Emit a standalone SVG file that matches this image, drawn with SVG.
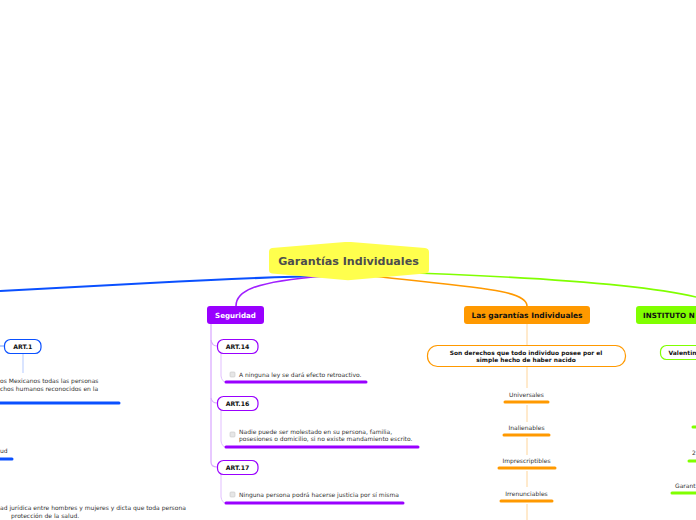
<svg xmlns="http://www.w3.org/2000/svg" width="696" height="520" viewBox="0 0 696 520">
<defs>
<style>
.t{font-family:"DejaVu Sans",Verdana,sans-serif;}
.b{font-weight:bold;}
.sm{font-size:6px;fill:#333;}
.art{font-size:6.2px;font-weight:bold;fill:#111;}
.ul{stroke-width:3;stroke-linecap:round;fill:none;}
.cb{fill:#e6e6e6;stroke:#c8c8c8;stroke-width:0.6;}
</style>
</defs>
<rect width="696" height="520" fill="#fff"/>
<g id="connectors" fill="none">
  <path d="M0 291 L150 283 Q260 277 330 276" stroke="#0a50ff" stroke-width="2.2"/>
  <path d="M325 276 C250 282 236 292 236 306" stroke="#a020ff" stroke-width="1.6"/>
  <path d="M372 276 C480 288 527 290 527 306" stroke="#ff9900" stroke-width="1.6"/>
  <path d="M380 272 C520 276 640 284 696 297" stroke="#80ff00" stroke-width="1.6"/>
  <path d="M211 324 L211 462 Q211 467 217 467" stroke="#d9a6ff" stroke-width="1.2"/>
  <path d="M211 340 Q212 346 217 346" stroke="#d9a6ff" stroke-width="1.2"/>
  <path d="M211 398 Q212 403 217 403" stroke="#d9a6ff" stroke-width="1.2"/>
  <path d="M221 354 L221 376 Q222 382 226 382" stroke="#e2bfff" stroke-width="1"/>
  <path d="M221 411 L221 441 Q222 447 226 447" stroke="#e2bfff" stroke-width="1"/>
  <path d="M221 474 L221 497 Q222 503 226 503" stroke="#e2bfff" stroke-width="1"/>
  <path d="M0 346 L4 346" stroke="#6f9bff" stroke-width="1"/>
  <path d="M23 354 L23 373" stroke="#b3c9ff" stroke-width="1"/>
  <path d="M527 323 L527 345" stroke="#ffd59a" stroke-width="1"/>
  <path d="M527 367 L527 388" stroke="#ffd59a" stroke-width="1"/>
  <path d="M527 405 L527 422" stroke="#ffd59a" stroke-width="1"/>
  <path d="M527 438 L527 455" stroke="#ffd59a" stroke-width="1"/>
  <path d="M527 471 L527 487" stroke="#ffd59a" stroke-width="1"/>
  <path d="M527 504 L527 520" stroke="#ffd59a" stroke-width="1"/>
</g>
<g id="central">
  <path d="M272 248 L345 242 Q348 241.8 351 242 L425 248 Q429 248.5 429 252 L429 270 Q429 273 425 273.5 L351 280 Q348 280.3 345 280 L272 273.5 Q269 273 269 270 L269 252 Q269 248.5 272 248 Z" fill="#ffff4d"/>
  <text class="t b" x="348.5" y="265" font-size="11.1" fill="#4d4d4d" text-anchor="middle">Garantías Individuales</text>
</g>
<g id="seguridad">
  <rect x="207" y="306" width="57" height="18" rx="3" fill="#9900ff"/>
  <text class="t b" x="235.5" y="318" font-size="7.1" fill="#fff" text-anchor="middle">Seguridad</text>
</g>
<g id="art14">
  <rect x="217.5" y="339.5" width="40.5" height="14" rx="6" fill="#fff" stroke="#9900ff" stroke-width="1.2"/>
  <text class="t art" x="237.5" y="349" text-anchor="middle">ART.14</text>
</g>
<g id="art14-text">
  <rect class="cb" x="230" y="372" width="5" height="5" rx="1"/>
  <text class="t sm" x="239" y="377">A ninguna ley se dará efecto retroactivo.</text>
  <path class="ul" d="M226 382 L366 382" stroke="#9900ff"/>
</g>
<g id="art16">
  <rect x="217.5" y="396.5" width="40.5" height="14" rx="6" fill="#fff" stroke="#9900ff" stroke-width="1.2"/>
  <text class="t art" x="237.5" y="406" text-anchor="middle">ART.16</text>
</g>
<g id="art16-text">
  <rect class="cb" x="230" y="432" width="5" height="5" rx="1"/>
  <text class="t sm" x="239" y="434">Nadie puede ser molestado en su persona, familia,</text>
  <text class="t sm" x="239" y="441">posesiones o domicilio, si no existe mandamiento escrito.</text>
  <path class="ul" d="M226 447 L418 447" stroke="#9900ff"/>
</g>
<g id="art17">
  <rect x="217.5" y="460.5" width="40.5" height="14" rx="6" fill="#fff" stroke="#9900ff" stroke-width="1.2"/>
  <text class="t art" x="237.5" y="470" text-anchor="middle">ART.17</text>
</g>
<g id="art17-text">
  <rect class="cb" x="230" y="492" width="5" height="5" rx="1"/>
  <text class="t sm" x="239" y="497">Ninguna persona podrá hacerse justicia por sí misma</text>
  <path class="ul" d="M226 503 L403 503" stroke="#9900ff"/>
</g>
<g id="art1">
  <rect x="4.5" y="339.5" width="36.5" height="14" rx="6" fill="#fff" stroke="#0a50ff" stroke-width="1.2"/>
  <text class="t art" x="22.8" y="349" text-anchor="middle">ART.1</text>
</g>
<g id="art1-text">
  <text class="t sm" x="0" y="383">os Mexicanos todas las personas</text>
  <text class="t sm" x="0" y="391">chos humanos reconocidos en la</text>
  <path class="ul" d="M0 403 L119 403" stroke="#0a50ff"/>
</g>
<g id="salud">
  <text class="t sm" x="0" y="453">ud</text>
  <path class="ul" d="M0 459 L12 459" stroke="#0a50ff"/>
</g>
<g id="igualdad">
  <text class="t sm" x="0" y="510">ad jurídica entre hombres y mujeres y dicta que toda persona</text>
  <text class="t sm" x="11" y="518">protección de la salud.</text>
</g>
<g id="las-garantias">
  <rect x="464" y="306" width="126" height="18" rx="3" fill="#ff9900"/>
  <text class="t b" x="527" y="318" font-size="7.5" fill="#111" text-anchor="middle">Las garantías Individuales</text>
</g>
<g id="son-derechos">
  <rect x="427.5" y="345.5" width="198" height="21" rx="10" fill="#fff" stroke="#ff9900" stroke-width="1.2"/>
  <text class="t b" x="526" y="355" font-size="5.9" fill="#111" text-anchor="middle">Son derechos que todo individuo posee por el</text>
  <text class="t b" x="526" y="362" font-size="5.9" fill="#111" text-anchor="middle">simple hecho de haber nacido</text>
</g>
<g id="universales">
  <text class="t sm" x="526.5" y="397" text-anchor="middle">Universales</text>
  <path class="ul" d="M505 402 L548 402" stroke="#ff9900"/>
</g>
<g id="inalienables">
  <text class="t sm" x="526.5" y="430" text-anchor="middle">Inalienables</text>
  <path class="ul" d="M504 435 L549 435" stroke="#ff9900"/>
</g>
<g id="imprescriptibles">
  <text class="t sm" x="526.5" y="463" text-anchor="middle">Imprescriptibles</text>
  <path class="ul" d="M499 468 L555 468" stroke="#ff9900"/>
</g>
<g id="irrenunciables">
  <text class="t sm" x="526.5" y="496" text-anchor="middle">Irrenunciables</text>
  <path class="ul" d="M501 501 L552 501" stroke="#ff9900"/>
</g>
<g id="instituto">
  <rect x="636" y="306" width="70" height="18" rx="3" fill="#80ff00"/>
  <text class="t b" x="643" y="318" font-size="7.2" fill="#111">INSTITUTO N</text>
</g>
<g id="valentin">
  <rect x="660.5" y="345.5" width="50" height="14" rx="6" fill="#fff" stroke="#80ff00" stroke-width="1.2"/>
  <text class="t b" x="668.5" y="355" font-size="6" fill="#111">Valentin</text>
</g>
<g id="green-items">
  <path class="ul" d="M693 427 L696 427" stroke="#80ff00"/>
  <text class="t sm" x="692" y="455">2</text>
  <path class="ul" d="M689 461 L696 461" stroke="#80ff00"/>
  <text class="t sm" x="675" y="488">Garant</text>
  <path class="ul" d="M672 493 L696 493" stroke="#80ff00"/>
</g>
</svg>
